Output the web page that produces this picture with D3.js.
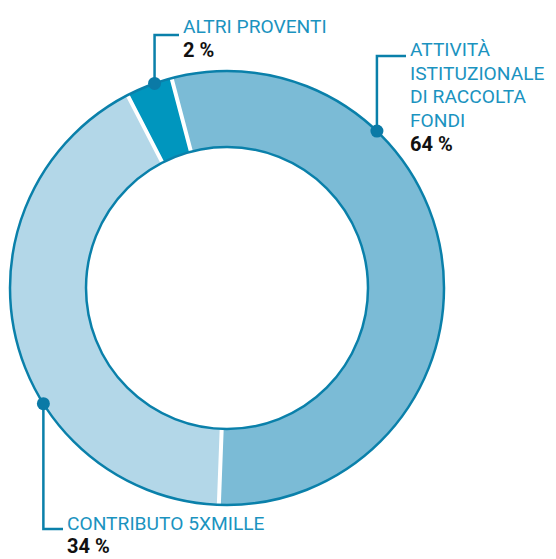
<!DOCTYPE html>
<html>
<head>
<meta charset="utf-8">
<script src="https://cdn.jsdelivr.net/npm/d3@7"></script>
<style>
  body { margin: 0; background: #fff; }
  svg text { font-family: Roboto, "Noto Sans", sans-serif; }
</style>
</head>
<body>
<svg width="556" height="559"></svg>
<script>
// slices, clockwise from the top separator
var categories = ["ATTIVITÀ ISTITUZIONALE DI RACCOLTA FONDI", "CONTRIBUTO 5XMILLE", "ALTRI PROVENTI"];
var percentLabels = ["64 %", "34 %", "2 %"];
// share of the ring each slice takes in the drawing
var arcShares = [54.9, 41.9, 3.2];
var labelLines = [["ATTIVITÀ", "ISTITUZIONALE", "DI RACCOLTA", "FONDI"], ["CONTRIBUTO 5XMILLE"], ["ALTRI PROVENTI"]];

var colors = ["#7bbbd6", "#b3d7e8", "#0096be"];
var lineColor = "#0a80aa", textColor = "#1b93bf";

var cx = 227, cy = 288, outerR = 217, innerR = 141;
var deg = Math.PI / 180;
var start = -14.8 * deg;

var svg = d3.select("svg");
var g = svg.append("g").attr("transform", "translate(" + cx + "," + cy + ")");

var pie = d3.pie().sort(null).value(function(d) { return d; })
            .startAngle(start).endAngle(start + 2 * Math.PI)
            .padAngle(4 / outerR);
var arc = d3.arc().innerRadius(innerR).outerRadius(outerR).padRadius(outerR);

g.selectAll("path.slice")
  .data(pie(arcShares))
  .enter()
  .append("path")
  .attr("class", "slice")
  .attr("d", arc)
  .attr("fill", function(d, i) { return colors[i]; });

// ring outlines
[outerR, innerR].forEach(function(r) {
  g.append("circle").attr("r", r).attr("fill", "none")
   .attr("stroke", lineColor).attr("stroke-width", 2.5);
});

// leader anchors (angle on ring, elbow y, text x, first baseline)
var labelSetup = [
  { angle: 43.7, elbowY: 56, textX: 410, baseY: 56, lineH: 23.7 },
  { angle: 237.8, elbowY: 529, textX: 67, baseY: 530, lineH: 23 },
  { angle: -19.5, elbowY: 35, textX: 183, baseY: 33, lineH: 24 }
];

labelSetup.forEach(function(s, i) {
  var a = s.angle * deg;
  var px = cx + outerR * Math.sin(a), py = cy - outerR * Math.cos(a);
  svg.append("path")
     .attr("d", "M" + px + "," + py + "V" + s.elbowY + "H" + (s.textX - 4))
     .attr("fill", "none").attr("stroke", lineColor).attr("stroke-width", 2.5);
  svg.append("circle").attr("cx", px).attr("cy", py).attr("r", 6.5).attr("fill", "#0b7aa6");

  var lines = labelLines[i];
  lines.forEach(function(t, j) {
    svg.append("text").attr("x", s.textX).attr("y", s.baseY + j * s.lineH)
       .attr("font-size", 19.2).attr("fill", textColor).text(t);
  });
  svg.append("text").attr("x", s.textX).attr("y", s.baseY + lines.length * s.lineH)
     .attr("font-size", 20).attr("font-weight", "bold").attr("fill", "#111")
     .text(percentLabels[i]);
});
</script>
</body>
</html>
